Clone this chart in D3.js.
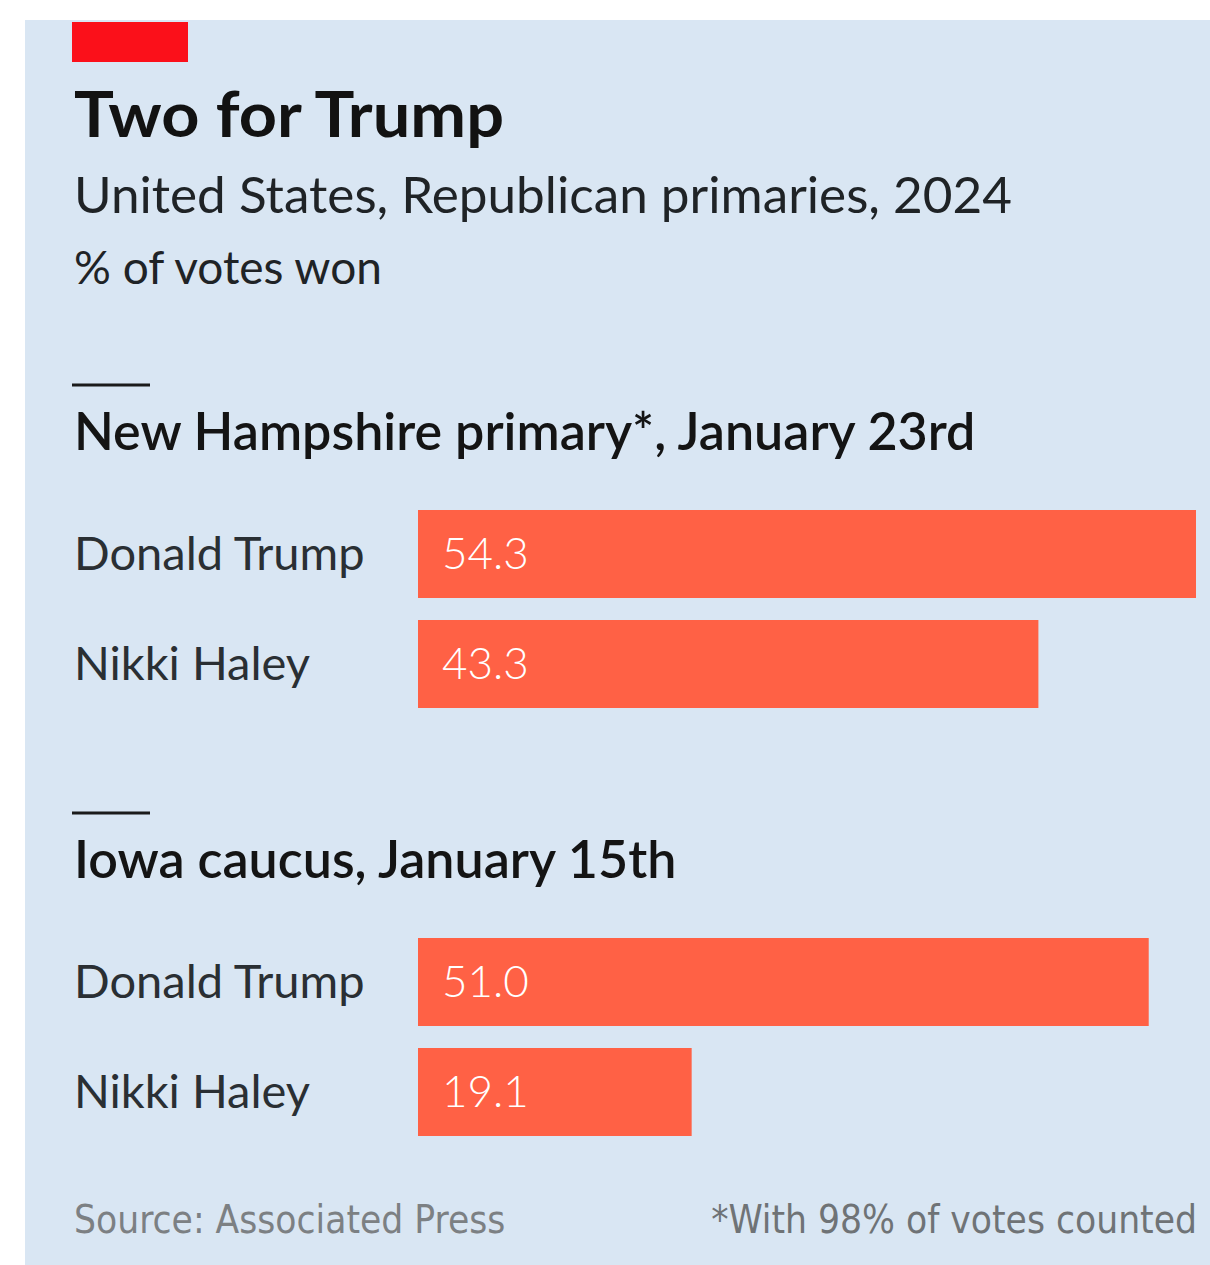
<!DOCTYPE html>
<html>
<head>
<meta charset="utf-8">
<script src="https://cdn.jsdelivr.net/npm/d3@7"></script>
<style>
  html, body { margin: 0; padding: 0; background: #ffffff; }
  svg { display: block; }
</style>
</head>
<body>
<svg id="chart" width="1210" height="1265"></svg>
<script>
// Republican primary results, % of votes won
const raceTitles = ["New Hampshire primary*, January 23rd", "Iowa caucus, January 15th"];
const candidates = ["Donald Trump", "Nikki Haley"];
const newHampshireValues = [54.3, 43.3];
const iowaValues = [51.0, 19.1];
const raceValues = [newHampshireValues, iowaValues];

const title = "Two for Trump";
const subtitle = "United States, Republican primaries, 2024";
const unitLabel = "% of votes won";
const sourceNote = "Source: Associated Press";
const footNote = "*With 98% of votes counted";

const svg = d3.select("#chart");
const W = 1210, H = 1265;
const FONT = "Lato, 'Open Sans', sans-serif";
const NARROW = "'Liberation Sans Narrow', 'DejaVu Sans Condensed', sans-serif";

// panel
svg.append("rect").attr("x", 25).attr("y", 20).attr("width", W - 25).attr("height", H - 20)
  .attr("fill", "#d9e6f3");

// red tag
svg.append("rect").attr("x", 72).attr("y", 22).attr("width", 116).attr("height", 40)
  .attr("fill", "#fb101a");

svg.append("text").attr("x", 74).attr("y", 137).text(title)
  .attr("font-family", FONT).attr("font-weight", 700).attr("font-size", 63)
  .attr("textLength", 430).attr("lengthAdjust", "spacingAndGlyphs").attr("fill", "#121212");
svg.append("text").attr("x", 74).attr("y", 213).text(subtitle)
  .attr("font-family", FONT).attr("font-size", 51)
  .attr("textLength", 938).attr("lengthAdjust", "spacingAndGlyphs").attr("fill", "#1f2326");
svg.append("text").attr("x", 74).attr("y", 284).text(unitLabel)
  .attr("font-family", FONT).attr("font-size", 46).attr("fill", "#1f2326");

// shared value scale
const x = d3.scaleLinear().domain([0, 54.3]).range([418, 1196]);

const sectionOffset = 428;
raceTitles.forEach((raceTitle, i) => {
  const g = svg.append("g").attr("transform", `translate(0, ${i * sectionOffset})`);
  g.append("line").attr("x1", 72).attr("x2", 150).attr("y1", 385).attr("y2", 385)
    .attr("stroke", "#1b1b1b").attr("stroke-width", 3);
  g.append("text").attr("x", 74).attr("y", 450).text(raceTitle)
    .attr("font-family", FONT).attr("font-weight", 600).attr("font-size", 52).attr("fill", "#141414");

  const y = d3.scaleBand().domain(candidates).range([510, 708]).paddingInner(0.2);
  const rows = candidates.map((c, j) => ({ name: c, value: raceValues[i][j] }));

  g.selectAll("rect.bar").data(rows).join("rect").attr("class", "bar")
    .attr("x", x(0)).attr("y", d => y(d.name))
    .attr("width", d => x(d.value) - x(0)).attr("height", y.bandwidth())
    .attr("fill", "#ff6145");

  g.selectAll("text.name").data(rows).join("text").attr("class", "name")
    .attr("x", 74).attr("y", d => y(d.name) + y.bandwidth() / 2)
    .attr("dy", "0.35em").text(d => d.name)
    .attr("font-family", FONT).attr("font-size", 47).attr("fill", "#2a2f33");

  g.selectAll("text.value").data(rows).join("text").attr("class", "value")
    .attr("x", x(0) + 24).attr("y", d => y(d.name) + y.bandwidth() / 2)
    .attr("dy", "0.35em").text(d => d.value.toFixed(1))
    .attr("font-family", FONT).attr("font-weight", 300).attr("font-size", 44).attr("fill", "#ffffff");
});

// footer
svg.append("text").attr("x", 74).attr("y", 1233).text(sourceNote)
  .attr("font-family", NARROW).attr("font-size", 38.5).attr("fill", "#7c8083");
svg.append("text").attr("x", 1197).attr("y", 1233).attr("text-anchor", "end").text(footNote)
  .attr("font-family", NARROW).attr("font-size", 38.5).attr("fill", "#6f7376");
</script>
</body>
</html>
